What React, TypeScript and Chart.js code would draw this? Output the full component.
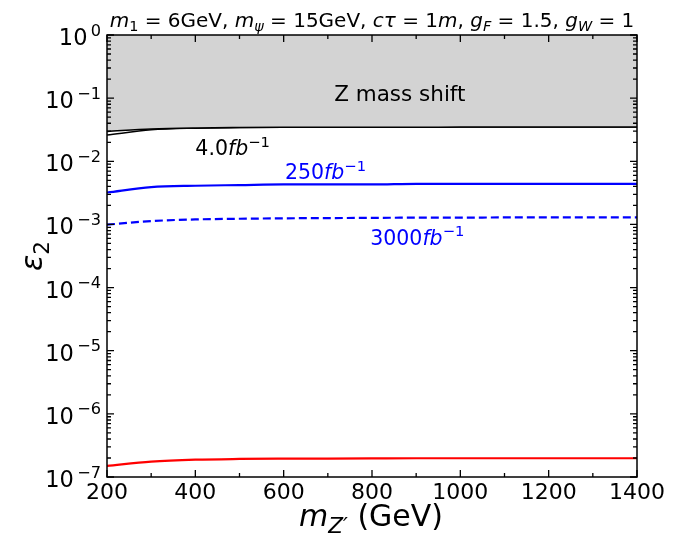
import React, { useEffect, useRef } from "react";
import { Chart, registerables } from "chart.js";
Chart.register(...registerables);

const MASS = [200, 300, 400, 500, 600, 700, 800, 900, 1000, 1100, 1200, 1300, 1400];
const Z_SHIFT = [0.0296, 0.0325, 0.0338, 0.0343, 0.0345, 0.0346, 0.0347, 0.0347, 0.0348, 0.0348, 0.0348, 0.0348, 0.0348];
const LUMI_4 = [0.026, 0.0315, 0.0335, 0.0342, 0.0345, 0.0346, 0.0347, 0.0347, 0.0348, 0.0348, 0.0348, 0.0348, 0.0348];
const LUMI_250 = [0.0032, 0.0039, 0.0041, 0.0042, 0.0043, 0.0043, 0.0043, 0.0044, 0.0044, 0.0044, 0.0044, 0.0044, 0.0044];
const LUMI_3000 = [0.00099, 0.00113, 0.0012, 0.00123, 0.00125, 0.00126, 0.00127, 0.00128, 0.00128, 0.00129, 0.00129, 0.00129, 0.00129];
const RED = [1.5e-7, 1.75e-7, 1.88e-7, 1.93e-7, 1.95e-7, 1.96e-7, 1.97e-7, 1.98e-7, 1.98e-7, 1.98e-7, 1.98e-7, 1.98e-7, 1.98e-7];

const X_TICKS = [200, 400, 600, 800, 1000, 1200, 1400];
const Y_EXPONENTS = [0, -1, -2, -3, -4, -5, -6, -7];

const FAM = "'DejaVu Sans'";

type Seg = { t: string; it?: boolean; sub?: boolean; sup?: boolean };

function segSize(s: Seg, size: number) {
  return s.sub || s.sup ? size * 0.72 : size;
}

function richWidth(ctx: CanvasRenderingContext2D, segs: Seg[], size: number) {
  let w = 0;
  for (const s of segs) {
    ctx.font = `${s.it ? "italic " : ""}${segSize(s, size)}px ${FAM}`;
    w += ctx.measureText(s.t).width;
  }
  return w;
}

function drawRich(
  ctx: CanvasRenderingContext2D,
  segs: Seg[],
  x: number,
  y: number,
  size: number,
  color: string,
  align: "left" | "center" | "right" = "left"
) {
  const w = richWidth(ctx, segs, size);
  let cx = align === "left" ? x : align === "center" ? x - w / 2 : x - w;
  ctx.save();
  ctx.fillStyle = color;
  ctx.textBaseline = "alphabetic";
  ctx.textAlign = "left";
  for (const s of segs) {
    ctx.font = `${s.it ? "italic " : ""}${segSize(s, size)}px ${FAM}`;
    const dy = s.sub ? size * 0.22 : s.sup ? -size * 0.42 : 0;
    ctx.fillText(s.t, cx, y + dy);
    cx += ctx.measureText(s.t).width;
  }
  ctx.restore();
}

const decorPlugin = {
  id: "decor",
  afterDraw(chart: any) {
    const ctx: CanvasRenderingContext2D = chart.ctx;
    const { left, right, top, bottom } = chart.chartArea;
    const xs = chart.scales.x;
    const ys = chart.scales.y;
    ctx.save();
    ctx.strokeStyle = "#000";
    ctx.lineWidth = 1.5;
    ctx.strokeRect(left, top, right - left, bottom - top);
    // x ticks
    ctx.lineWidth = 1.3;
    for (let v = 200; v <= 1400; v += 100) {
      const px = xs.getPixelForValue(v);
      const len = v % 200 === 0 ? 7 : 4;
      ctx.beginPath();
      ctx.moveTo(px, bottom);
      ctx.lineTo(px, bottom - len);
      ctx.moveTo(px, top);
      ctx.lineTo(px, top + len);
      ctx.stroke();
    }
    // y ticks
    for (let e = -7; e <= 0; e++) {
      for (let m = 1; m <= 9; m++) {
        if (e === 0 && m > 1) break;
        const v = m * Math.pow(10, e);
        const py = ys.getPixelForValue(v);
        const len = m === 1 ? 7 : 4;
        ctx.beginPath();
        ctx.moveTo(left, py);
        ctx.lineTo(left + len, py);
        ctx.moveTo(right, py);
        ctx.lineTo(right - len, py);
        ctx.stroke();
      }
    }
    // x tick labels
    ctx.fillStyle = "#000";
    ctx.font = `22px ${FAM}`;
    ctx.textAlign = "center";
    ctx.textBaseline = "top";
    for (const v of X_TICKS) {
      ctx.fillText(String(v), xs.getPixelForValue(v), bottom + 5);
    }
    // y tick labels
    for (const e of Y_EXPONENTS) {
      const py = ys.getPixelForValue(Math.pow(10, e));
      const segs: Seg[] = [{ t: "10" }, { t: e === 0 ? "\u20090" : "\u2009\u2212" + String(-e), sup: true }];
      drawRich(ctx, segs, left - 6, py + 10, 22.5, "#000", "right");
    }
    // title
    drawRich(
      ctx,
      [
        { t: "m", it: true }, { t: "1", sub: true }, { t: " = 6GeV, " },
        { t: "m", it: true }, { t: "\u03c8", it: true, sub: true }, { t: " = 15GeV, " },
        { t: "c\u03c4", it: true }, { t: " = 1" }, { t: "m", it: true }, { t: ", " },
        { t: "g", it: true }, { t: "F", it: true, sub: true }, { t: " = 1.5, " },
        { t: "g", it: true }, { t: "W", it: true, sub: true }, { t: " = 1" },
      ],
      (left + right) / 2,
      top - 8,
      20,
      "#000",
      "center"
    );
    // annotations
    ctx.font = `21.5px ${FAM}`;
    ctx.textAlign = "center";
    ctx.textBaseline = "alphabetic";
    ctx.fillStyle = "#000";
    ctx.fillText("Z mass shift", xs.getPixelForValue(863), ys.getPixelForValue(0.1) + 3);
    const lumi = (n: string): Seg[] => [{ t: n }, { t: "fb", it: true }, { t: "\u22121", sup: true }];
    drawRich(ctx, lumi("4.0"), xs.getPixelForValue(400), ys.getPixelForValue(0.0125), 20.5, "#000", "left");
    drawRich(ctx, lumi("250"), xs.getPixelForValue(603), ys.getPixelForValue(0.00515), 20.5, "#0000ff", "left");
    drawRich(ctx, lumi("3000"), xs.getPixelForValue(796), ys.getPixelForValue(0.00048), 20.5, "#0000ff", "left");
    // axis titles
    drawRich(
      ctx,
      [{ t: "m", it: true }, { t: "Z\u2032", it: true, sub: true }, { t: " (GeV)" }],
      (left + right) / 2 - 1,
      bottom + 49,
      30,
      "#000",
      "center"
    );
    ctx.save();
    ctx.translate(42, (top + bottom) / 2);
    ctx.rotate(-Math.PI / 2);
    drawRich(ctx, [{ t: "\u03b5", it: true }, { t: "2", sub: true }], 0, 0, 30, "#000", "center");
    ctx.restore();
    ctx.restore();
  },
};

const pts = (arr: number[]) => MASS.map((x, i) => ({ x, y: arr[i] }));

export default function App() {
  const ref = useRef<HTMLCanvasElement>(null);
  useEffect(() => {
    if (!ref.current) return;
    const chart = new Chart(ref.current, {
      type: "line",
      data: {
        datasets: [
          {
            data: pts(Z_SHIFT),
            borderColor: "#000",
            borderWidth: 1.5,
            backgroundColor: "#d3d3d3",
            fill: "end",
            pointRadius: 0,
            cubicInterpolationMode: "monotone",
          },
          {
            data: pts(LUMI_4),
            borderColor: "#000",
            borderWidth: 1.5,
            fill: false,
            pointRadius: 0,
            cubicInterpolationMode: "monotone",
          },
          {
            data: pts(LUMI_250),
            borderColor: "#0000ff",
            borderWidth: 2.2,
            fill: false,
            pointRadius: 0,
            cubicInterpolationMode: "monotone",
          },
          {
            data: pts(LUMI_3000),
            borderColor: "#0000ff",
            borderWidth: 2.2,
            borderDash: [8, 4],
            fill: false,
            pointRadius: 0,
            cubicInterpolationMode: "monotone",
          },
          {
            data: pts(RED),
            borderColor: "#ff0000",
            borderWidth: 2.2,
            fill: false,
            pointRadius: 0,
            cubicInterpolationMode: "monotone",
          },
        ],
      },
      options: {
        responsive: false,
        animation: false,
        devicePixelRatio: 1,
        layout: { padding: { left: 107, right: 44, top: 35, bottom: 60 } },
        plugins: { legend: { display: false }, tooltip: { enabled: false } },
        scales: {
          x: { type: "linear", min: 200, max: 1400, display: false },
          y: { type: "logarithmic", min: 1e-7, max: 1, display: false },
        },
      },
      plugins: [decorPlugin],
    } as any);
    return () => chart.destroy();
  }, []);
  return (
    <div style={{ position: "absolute", left: 0, top: 0, width: 681, height: 537, background: "#fff" }}>
      <canvas ref={ref} width={681} height={537} style={{ width: 681, height: 537 }} />
    </div>
  );
}
